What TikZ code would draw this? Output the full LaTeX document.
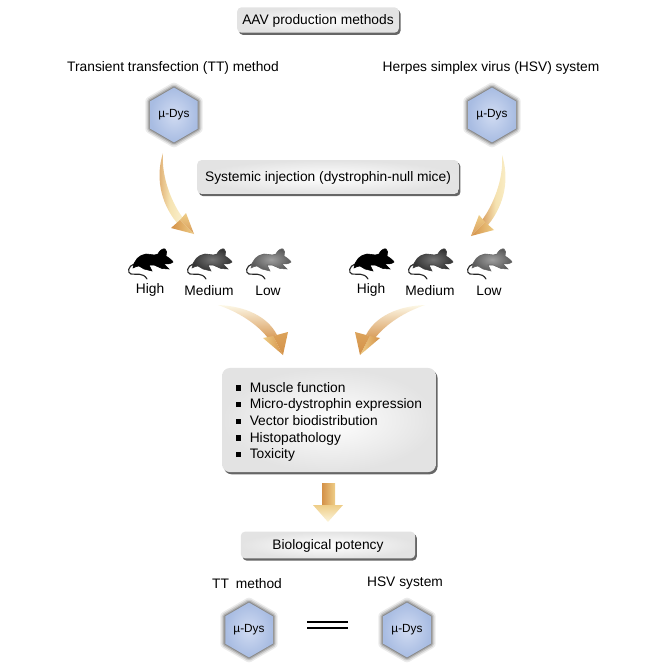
\documentclass[tikz,border=0pt]{standalone}
\usepackage{fontspec}
\setmainfont{Liberation Sans}
\usetikzlibrary{calc,positioning,shapes.geometric,shadows,shadings}
\definecolor{hexblue}{RGB}{208,219,242}
\definecolor{hexedge}{RGB}{168,188,226}
\definecolor{swoophi}{RGB}{250,240,205}
\definecolor{swoopmid}{RGB}{238,205,135}
\definecolor{swooplo}{RGB}{212,145,72}
\tikzset{
  txt/.style={font=\fontsize{9.8}{11.85}\selectfont, inner sep=0pt},
  caption/.style={txt, yshift=-1pt},
  titlebox/.style={rectangle, rounded corners=3pt, inner sep=0pt, txt,
                   text height=7pt, text depth=0pt,
                   inner color=white, outer color=black!11,
                   drop shadow={shadow xshift=1.2pt, shadow yshift=-1.6pt,
                                fill=black, opacity=0.6}},
  hexa/.style={regular polygon, regular polygon sides=6, shape border rotate=30,
               minimum size=39pt, inner sep=0pt,
               inner color=hexblue, outer color=hexedge, line join=round,
               font=\fontsize{8.4}{10}\selectfont,
               preaction={draw=black, line width=7pt, opacity=0.08},
               preaction={draw=black, line width=5pt, opacity=0.12},
               preaction={draw=black, line width=3pt, opacity=0.16},
               preaction={draw=black, line width=1.4pt, opacity=0.20}},
  mhigh/.style={fill=black, draw=black, line width=0.4pt},
  mmedium/.style={inner color=black!55, outer color=black!80, draw=black!75, line width=0.4pt},
  mlow/.style={inner color=black!38, outer color=black!65, draw=black!60, line width=0.4pt},
  equal/.style={line width=1.9pt, black},
  swoop/.pic={
    \shade[left color=swooplo!85, right color=swoophi, middle color=swoophi!60!swoopmid]
      (0,0) .. controls (-7,22) and (-4,48) .. (14,70)
      -- (20,65) .. controls (10,52) and (-2,25) .. (0,0) -- cycle;
    \shade[top color=swoopmid, bottom color=swooplo!90]
      (23,60) -- (31,81) -- (17,67) -- cycle;
    \shade[left color=swooplo, right color=swoopmid]
      (8,75) -- (31,81) -- (17,67) -- cycle;
  },
  sweep/.pic={
    \shade[shading angle=30, top color=swoophi!50, bottom color=swooplo!90]
      (0,0) .. controls (28,1) and (50,12) .. (59,30)
      -- (50,33) .. controls (38,18) and (20,7) .. (0,0) -- cycle;
    \shade[left color=swoopmid, right color=swooplo]
      (45,33) -- (65,50) -- (55,31) -- cycle;
    \shade[top color=swooplo!70!swoopmid, bottom color=swooplo]
      (70,27) -- (65,50) -- (55,31) -- cycle;
  },
  mouse/.pic={
    \draw[black!85, line width=0.8pt, line cap=round]
      (6,15) .. controls (0,17) and (-1,24) .. (3,25)
      .. controls (8,26) and (15,23) .. (19,30);
    \path[pic actions]
      (5,19) .. controls (6,11) and (11,6) .. (18,5)
      .. controls (22,5) and (26,7) .. (30,5) .. controls (31,2) and (35,-1) .. (37,0)
      .. controls (39,1) and (39,4) .. (38,7) .. controls (41,9) and (44,11) .. (45,13)
      .. controls (43,15) and (39,15) .. (36,15) -- (41,20) -- (34,19.5) -- (26,16)
      -- (21,16) -- (24,22) -- (16,20) -- (11,17) .. controls (9,17) and (7,18) .. (5,19) -- cycle;
  },
}
\newcommand{\sqmark}{\rule[1.2pt]{3.6pt}{3.6pt}\hspace{6pt}}

\begin{document}
\begin{tikzpicture}[x=0.025cm, y=-0.025cm]
    \useasboundingbox (0,0) rectangle (664,664);
    % headings
    \node[titlebox, minimum width=115pt, minimum height=18pt] (methods) at (318,20) {AAV production methods};
    \node[caption] (ttname) at (173,67) {Transient transfection (TT) method};
    \node[caption] (hsvname) at (491,67) {Herpes simplex virus (HSV) system};
    \node[hexa] (hexTT) at (174,115) {µ-Dys};
    \node[hexa] (hexHSV) at (492,115) {µ-Dys};
    \node[titlebox, minimum width=186pt, minimum height=24pt] (inject) at (328,177) {Systemic injection (dystrophin-null mice)};
    % arrows down to the mice
    \coordinate (swoopTT) at (163,153);
    \coordinate (swoopHSV) at (502,155);
    \pic at (swoopTT) {swoop};
    \pic[xscale=-1] at (swoopHSV) {swoop};
    % mice, left group then right group
    \foreach \xa/\mstyle/\lname [count=\i] in {128/mhigh/High, 187/mmedium/Medium, 246/mlow/Low,
                                               349/mhigh/High, 408/mmedium/Medium, 467/mlow/Low} {
        \pic[\mstyle] at (\xa,249) {mouse};
        \node[caption] (dose\i) at (\xa+22,289) {\lname};
    }
    \coordinate (sweepL) at (218,305);
    \coordinate (sweepR) at (425,305);
    \pic at (sweepL) {sweep};
    \pic[xscale=-1] at (sweepR) {sweep};
    % readouts
    \node[titlebox, minimum width=152pt, minimum height=74pt, rounded corners=5.5pt] (readout) at (329,420) {};
    \node[txt, anchor=west, align=left] (readlist) at (236,422)
        {\sqmark Muscle function\\
         \sqmark Micro-dystrophin expression\\
         \sqmark Vector biodistribution\\
         \sqmark Histopathology\\
         \sqmark Toxicity};
    \shade[left color=swooplo, right color=swoopmid]
        (322,483) rectangle (335,505);
    \shade[top color=swoopmid, bottom color=swoophi!70]
        (313,505) -- (343,505) -- (328,522) -- cycle;
    % outcome
    \node[titlebox, minimum width=124pt, minimum height=19pt] (potency) at (328,545) {Biological potency};
    \node[caption] (ttshort) at (247,582) {TT\hspace{0.5em}method};
    \node[caption] (hsvshort) at (405,582) {HSV system};
    \node[hexa] (hexA) at (249,630) {µ-Dys};
    \node[hexa] (hexB) at (407,630) {µ-Dys};
    \coordinate (eqL) at (307,622);
    \coordinate (eqR) at (348,622);
    \draw[equal] (eqL) -- (eqR);
    \draw[equal] ($(eqL)+(0,6)$) -- ($(eqR)+(0,6)$);
\end{tikzpicture}
\end{document}
